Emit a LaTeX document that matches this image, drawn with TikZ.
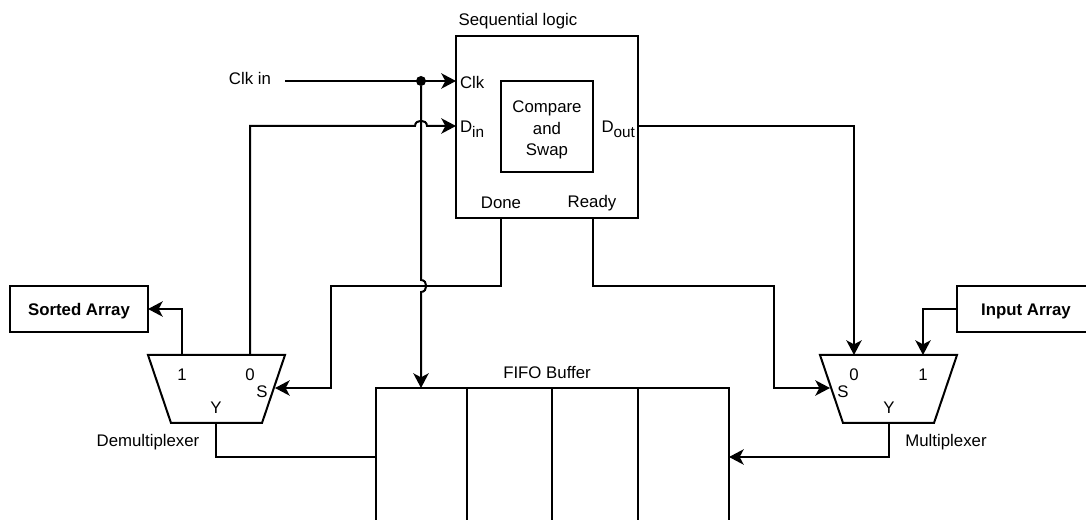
\documentclass[tikz,border=0pt]{standalone}
\usepackage{fontspec}
\setmainfont{Liberation Sans}
\usetikzlibrary{arrows.meta}
\newcommand{\subtxt}[1]{\raisebox{-3.6pt}{\fontsize{11.5}{12}\selectfont #1}}
\tikzset{
  wire/.style={line width=1.5pt,line join=miter},
  arrowwire/.style={wire,-{Stealth[length=11pt,width=11.5pt,inset=3pt]}},
  boxnode/.style={draw,line width=1.5pt,rectangle,inner sep=0pt,outer sep=0pt},
  arraybox/.style={boxnode,minimum width=103.5pt,minimum height=34.5pt,text height=10.5pt,text depth=0pt,font=\fontsize{12.6}{16}\selectfont\bfseries},
  txt/.style={inner sep=0pt,outer sep=0pt,font=\fontsize{12.6}{16}\selectfont,align=center},
  dotnode/.style={circle,fill=black,minimum size=7.5pt,inner sep=0pt,outer sep=0pt}
}
\begin{document}
\begin{tikzpicture}[x=0.75pt,y=-0.75pt]
\useasboundingbox (0,0) rectangle (1086,520);
\clip (0,0) rectangle (1086,520);
% blocks
\node[boxnode,minimum width=136.5pt,minimum height=136.5pt] (seq) at (547,127) {};
\node[boxnode,minimum width=69pt,minimum height=68.25pt] (cas) at (547,126.5) {};
\node[txt] (castext) at (547,130) {Compare\\and\\Swap};
\node[arraybox] (sorted) at (79,309) {Sorted Array};
\node[arraybox] (input) at (1026,309) {Input Array};
\draw[wire] (148,355) -- (285,355) -- (262,423) -- (171,423) -- cycle;
\draw[wire] (820,355) -- (957,355) -- (934,423) -- (843,423) -- cycle;
% FIFO
\node[boxnode,minimum width=264.75pt,minimum height=112.5pt] (fifo) at (552.5,463) {};
\coordinate (d1a) at (467,388); \coordinate (d1b) at (467,540);
\coordinate (d2a) at (552,388); \coordinate (d2b) at (552,540);
\coordinate (d3a) at (638,388); \coordinate (d3b) at (638,540);
\draw[wire] (d1a) -- (d1b);
\draw[wire] (d2a) -- (d2b);
\draw[wire] (d3a) -- (d3b);
% labels
\node[txt] (seqlabel) at (518,21.5) {Sequential logic};
\node[txt] (clkin) at (250,78) {Clk in};
\node[txt,anchor=base west] (clk) at (460,89) {Clk};
\node[txt,anchor=base west] (din) at (460,133) {D\subtxt{in}};
\node[txt,anchor=base east] (dout) at (635,133) {D\subtxt{out}};
\node[txt] (done) at (501,203) {Done};
\node[txt] (ready) at (592,203) {Ready};
\node[txt] (fifolabel) at (547,373) {FIFO Buffer};
\node[txt] (dm1) at (182,375) {1};
\node[txt] (dm0) at (250,375) {0};
\node[txt] (dmS) at (262,392) {S};
\node[txt] (dmY) at (216,408) {Y};
\node[txt] (dmname) at (148,442) {Demultiplexer};
\node[txt] (mx0) at (854,375) {0};
\node[txt] (mx1) at (923,375) {1};
\node[txt] (mxS) at (843,392) {S};
\node[txt] (mxY) at (889,408) {Y};
\node[txt] (mxname) at (946,442) {Multiplexer};
% ports
\coordinate (clkstart) at (285,81);
\coordinate (clkend) at (456,81);
\coordinate (dinend) at (456,126);
\coordinate (doutstart) at (638,126);
\coordinate (donestart) at (501,218);
\coordinate (readystart) at (593,218);
\coordinate (demuxs) at (275,388);
\coordinate (muxs) at (830,388);
\node[dotnode] (junction) at (421,81) {};
% connectors
\draw[arrowwire] (clkstart) -- (clkend);
\draw[arrowwire] (junction) -- (421,280) .. controls (428,280) and (428,292) .. (421,292) -- (421,388);
\draw[arrowwire] (250,355) -- (250,126) -- (415,126) .. controls (415,119) and (427,119) .. (427,126) -- (dinend);
\draw[arrowwire] (doutstart) -- (854,126) -- (854,355);
\draw[arrowwire] (donestart) -- (501,286) -- (331,286) -- (331,388) -- (demuxs);
\draw[arrowwire] (readystart) -- (593,286) -- (774,286) -- (774,388) -- (muxs);
\draw[arrowwire] (182,355) -- (182,309) -- (sorted.east);
\draw[arrowwire] (input.west) -- (923,309) -- (923,355);
\draw[wire] (216,423) -- (216,457) -- (376,457);
\draw[arrowwire] (889,423) -- (889,457) -- (729,457);
\end{tikzpicture}
\end{document}
